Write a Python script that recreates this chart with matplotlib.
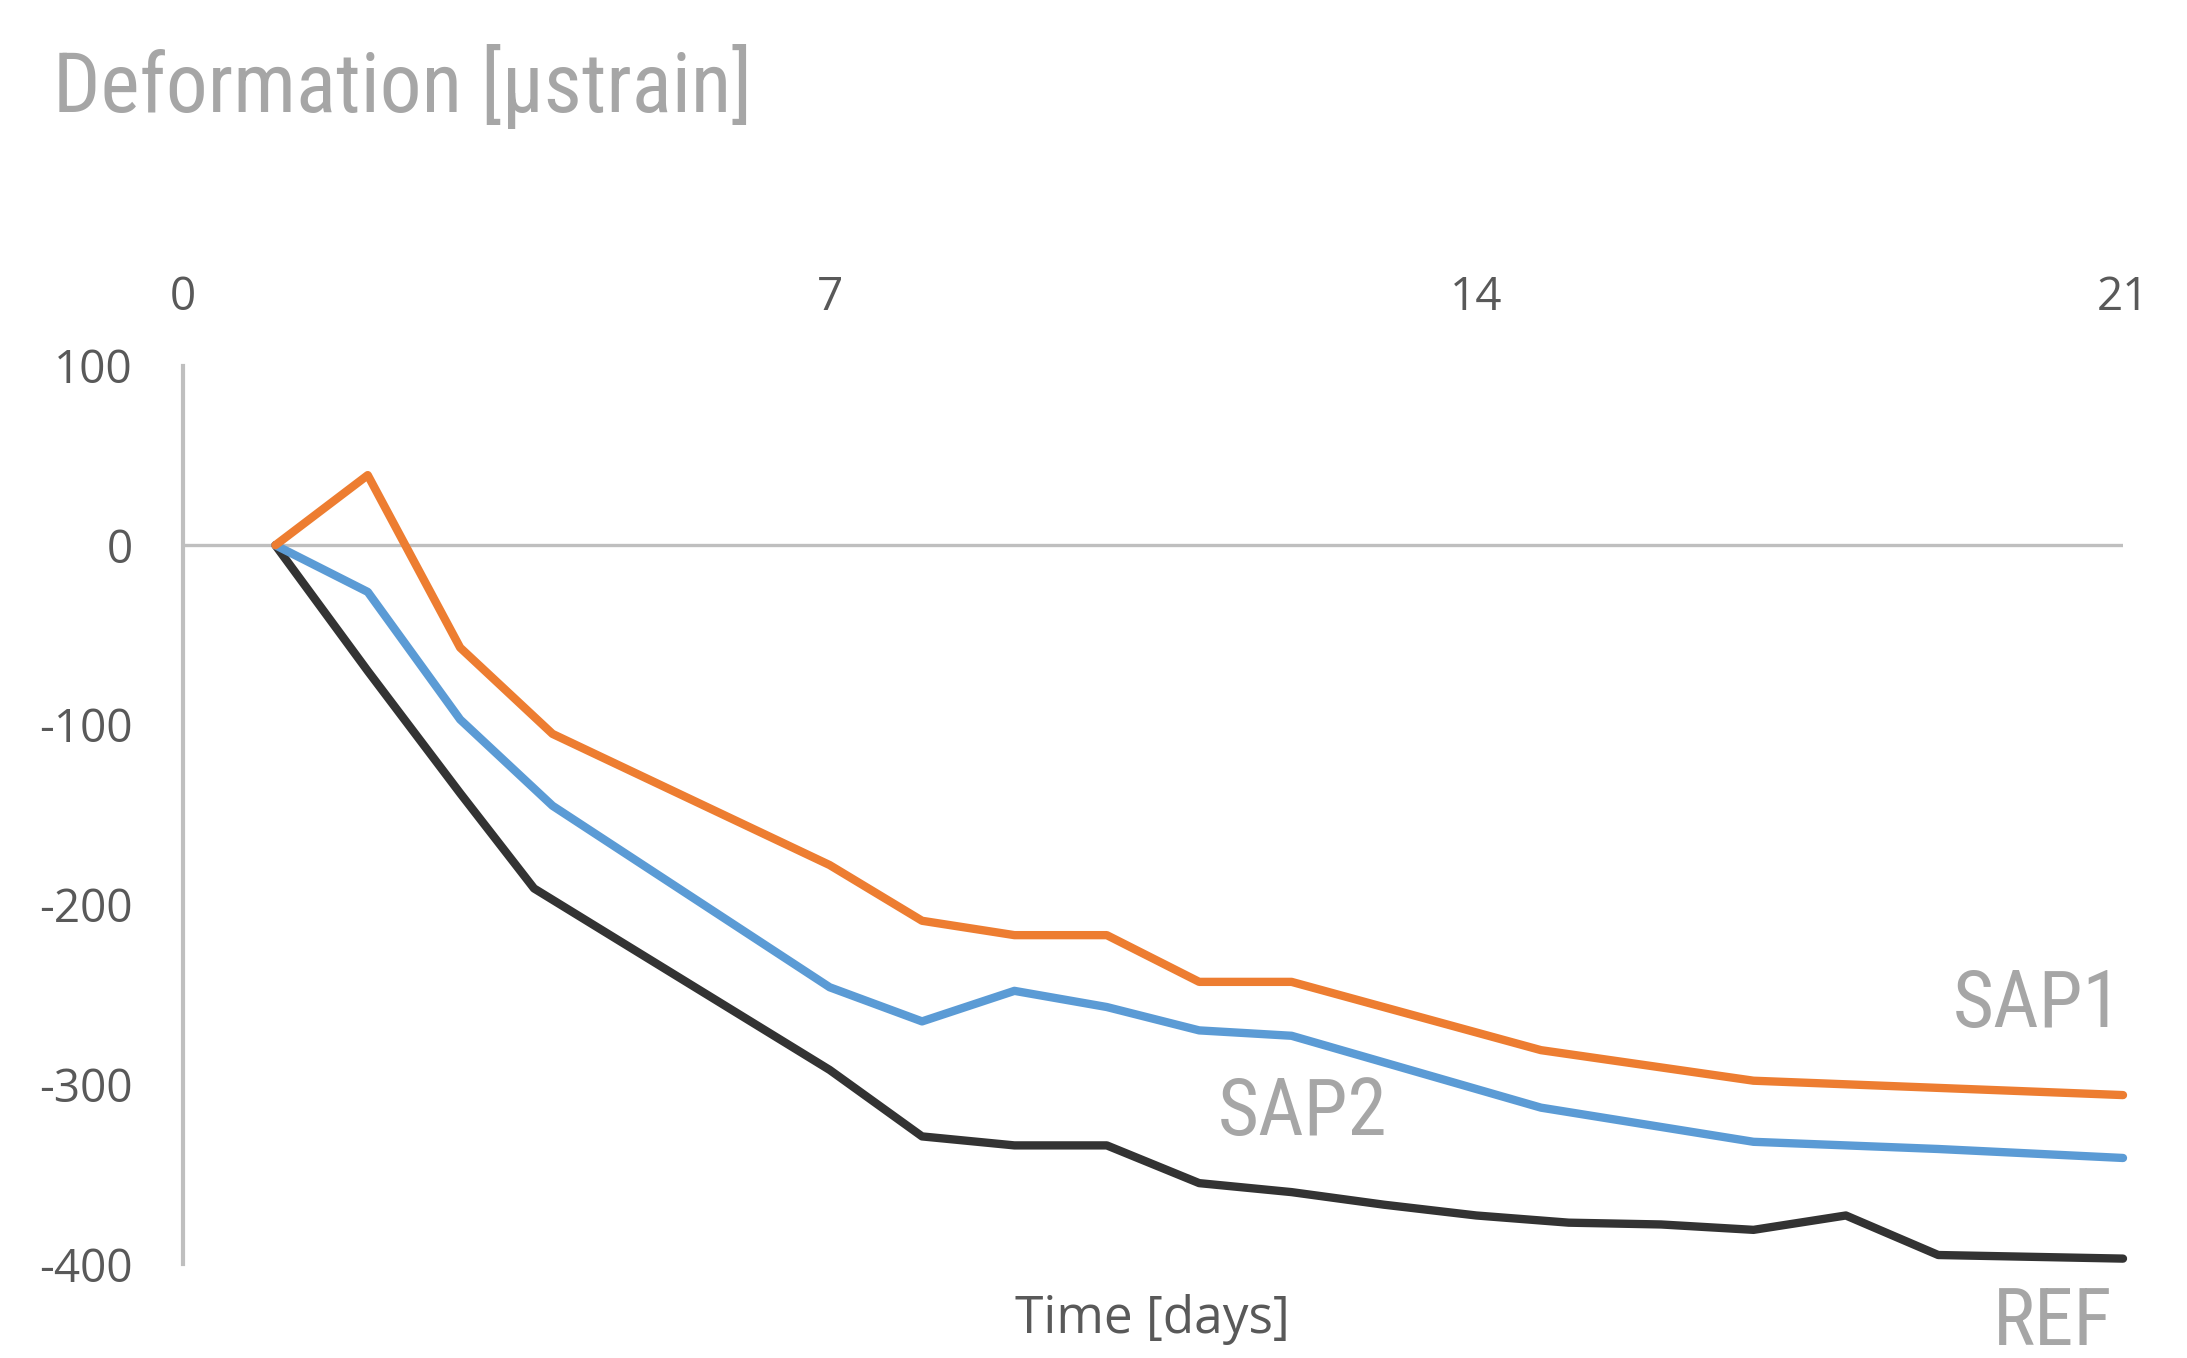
import matplotlib
matplotlib.use("Agg")
import matplotlib.pyplot as plt
from matplotlib import font_manager as fm

# ---------------- data ----------------
sap1_days = [1, 2, 3, 4, 7, 8, 9, 10, 11, 12, 14.7, 17, 19, 21]
sap1_vals = [0, 39, -57, -105, -178, -209, -217, -217, -243, -243, -281, -298, -302, -306]

sap2_days = [1, 2, 3, 4, 7, 8, 9, 10, 11, 12, 14.7, 17, 19, 21]
sap2_vals = [0, -26, -97, -145, -246, -265, -248, -257, -270, -273, -313, -332, -336, -341]

ref_days = [1, 2, 3, 3.8, 7, 8, 9, 10, 11, 12, 13, 14, 15, 16, 17, 18, 19, 21]
ref_vals = [0, -70, -138, -191, -292, -329, -334, -334, -355, -360, -367, -373, -377, -378, -381, -373, -395, -397]

x_ticks = [0, 7, 14, 21]
y_ticks = [100, 0, -100, -200, -300, -400]

title_text = "Deformation [μstrain]"
xlabel_text = "Time [days]"
series_labels = ["SAP1", "SAP2", "REF"]

# ---------------- fonts ----------------
names = {f.name for f in fm.fontManager.ttflist}
cond_family = None
cond_stretch = "normal"
for cand in ["Roboto Condensed", "Liberation Sans Narrow", "Open Sans Condensed"]:
    if cand in names:
        cond_family = cand
        break
if cond_family is None:
    cond_family = "DejaVu Sans"
    cond_stretch = "condensed"

tick_family = ["Open Sans", "DejaVu Sans"]

# ---------------- figure ----------------
W, H = 2187, 1358
fig = plt.figure(figsize=(W / 100, H / 100), dpi=100)
ax = fig.add_axes([183 / W, 1 - 1264 / H, (2123 - 183) / W, (1264 - 365.5) / H])

grey_axis = "#BFBFBF"
grey_text = "#595959"
grey_label = "#A6A6A6"

ax.axhline(0, color=grey_axis, lw=2.4, zorder=1)

lw = 6.0
ax.plot(ref_days, ref_vals, color="#333333", lw=lw, solid_joinstyle="round",
        solid_capstyle="round", zorder=3, clip_on=False)
ax.plot(sap2_days, sap2_vals, color="#5B9BD5", lw=lw, solid_joinstyle="round",
        solid_capstyle="round", zorder=4, clip_on=False)
ax.plot(sap1_days, sap1_vals, color="#ED7D31", lw=lw, solid_joinstyle="round",
        solid_capstyle="round", zorder=5, clip_on=False)

ax.set_xlim(0, 21)
ax.set_ylim(-400, 100)

for s in ["top", "right", "bottom"]:
    ax.spines[s].set_visible(False)
ax.spines["left"].set_color(grey_axis)
ax.spines["left"].set_linewidth(3.0)

ax.set_yticks(y_ticks)
ax.set_yticklabels([str(v) for v in y_ticks])
ax.set_xticks(x_ticks)
ax.set_xticklabels([str(v) for v in x_ticks])
ax.xaxis.tick_top()
ax.tick_params(axis="y", length=0, pad=36, labelsize=33, labelcolor=grey_text)
ax.tick_params(axis="x", length=0, pad=32, labelsize=33, labelcolor=grey_text)
for lab in ax.get_xticklabels() + ax.get_yticklabels():
    lab.set_family(tick_family)

# title
fig.text(53 / W, 1 - 112 / H, title_text, ha="left", va="baseline",
         fontsize=60, color=grey_label, family=[cond_family, "DejaVu Sans"],
         fontstretch=cond_stretch)

# x label
fig.text(1152 / W, 1 - 1333 / H, xlabel_text, ha="center", va="baseline",
         fontsize=37, color=grey_text, family=tick_family)

# series labels
lab_kw = dict(fontsize=57, color=grey_label, family=[cond_family, "DejaVu Sans"],
              fontstretch=cond_stretch, va="baseline")
fig.text(2122 / W, 1 - 1027 / H, series_labels[0], ha="right", **lab_kw)
fig.text(1218 / W, 1 - 1135 / H, series_labels[1], ha="left", **lab_kw)
fig.text(2112 / W, 1 - 1345 / H, series_labels[2], ha="right", **lab_kw)

fig.savefig("out.png", dpi=100)
